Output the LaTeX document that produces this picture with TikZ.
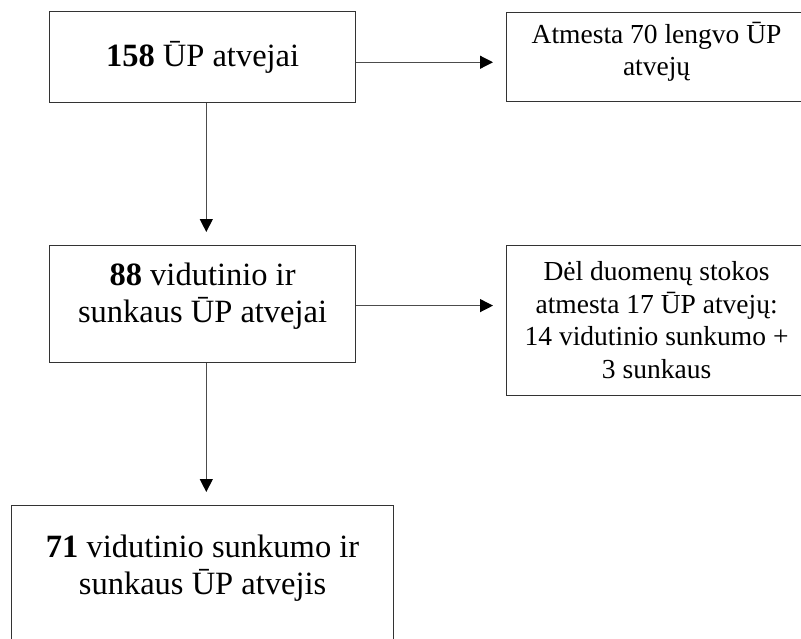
\documentclass[tikz,border=0pt]{standalone}
\usepackage{fontspec}
\setmainfont{Liberation Serif}
\usetikzlibrary{arrows.meta}

\newcommand{\boxtext}[4]{\parbox[c][#1][t]{#2}{\centering\rule{0pt}{#3}#4}}

\tikzset{
  stage/.style={draw=black!80, line width=1.2pt, inner sep=0pt, anchor=north west},
  big/.style={font=\fontsize{32.5}{37}\selectfont},
  small/.style={font=\fontsize{27.5}{32.5}\selectfont},
  flow/.style={draw=black!70, line width=1.2pt, -{Triangle[length=13pt, width=13pt, color=black]}, shorten >=13pt},
}

\begin{document}
\begin{tikzpicture}[x=1pt, y=-1pt]
    \useasboundingbox (0, 0) rectangle (801, 638);

    \node[stage, big] (cases) at (49, 11) {\boxtext{90.7pt}{306pt}{54.7pt}{\textbf{158} ŪP atvejai}};
    \node[stage, small] (mild) at (506, 11.7) {\boxtext{89pt}{300pt}{31pt}{Atmesta 70 lengvo ŪP\\atvejų}};
    \node[stage, big] (moderate) at (49, 245) {\boxtext{117pt}{306pt}{40pt}{\textbf{88} vidutinio ir\\sunkaus ŪP atvejai}};
    \node[stage, small] (missing) at (506, 245) {\boxtext{150pt}{300pt}{35pt}{Dėl duomenų stokos\\atmesta 17 ŪP atvejų:\\14 vidutinio sunkumo +\\3 sunkaus}};
    \node[stage, big] (final) at (11, 505) {\boxtext{150pt}{382pt}{52pt}{\textbf{71} vidutinio sunkumo ir\\sunkaus ŪP atvejis}};

    \draw[flow] ([yshift=-5.3pt]cases.east) -- ([yshift=-5.3pt]cases.east -| mild.west);
    \draw[flow] ([yshift=-1.5pt]moderate.east) -- ([yshift=-1.5pt]moderate.east -| missing.west);
    \draw[flow] ([xshift=3.7pt]cases.south) -- ([xshift=3.7pt]cases.south |- moderate.north);
    \draw[flow] ([xshift=3.7pt]moderate.south) -- ([xshift=3.7pt]moderate.south |- final.north);
\end{tikzpicture}
\end{document}
